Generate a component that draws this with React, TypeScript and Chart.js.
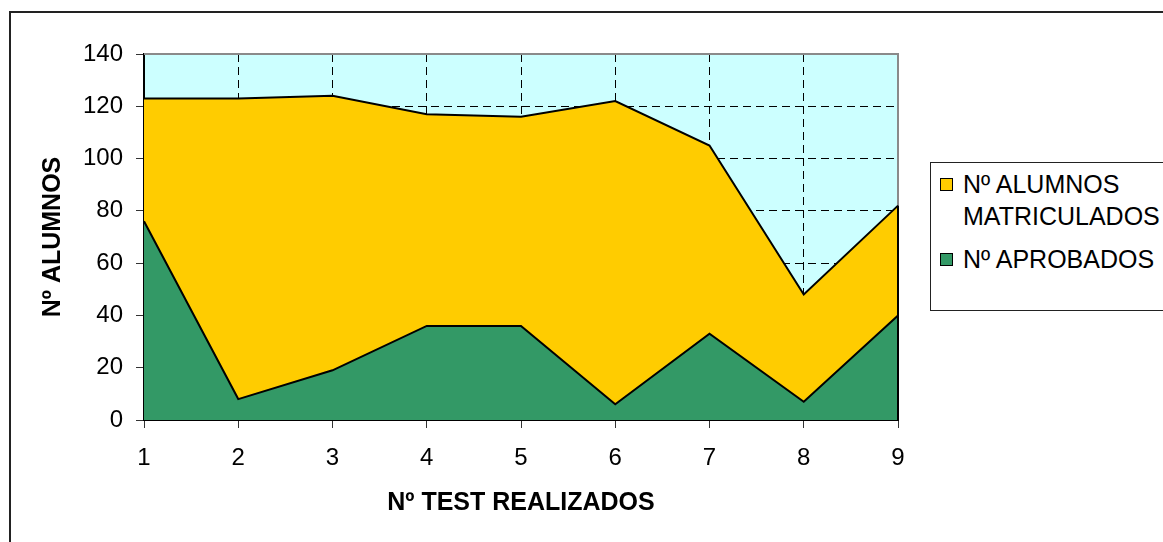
import React, { useEffect, useRef } from "react";
import { Chart, registerables } from "chart.js";

Chart.register(...registerables);

const categories = ["1", "2", "3", "4", "5", "6", "7", "8", "9"];
const matriculados = [123, 123, 124, 117, 116, 122, 105, 48, 82];
const aprobados = [76, 8, 19, 36, 36, 6, 33, 7, 40];
const yMin = 0;
const yMax = 140;
const yStep = 20;
const seriesNames = ["Nº ALUMNOS MATRICULADOS", "Nº APROBADOS"];
const legendLines = [["Nº ALUMNOS", "MATRICULADOS"], ["Nº APROBADOS"]];
const xTitle = "Nº TEST REALIZADOS";
const yTitle = "Nº ALUMNOS";

const FONT = "'Liberation Sans', Arial, Helvetica, sans-serif";
const W = 1163;
const H = 542;
const AREA = { left: 144, top: 54, right: 898, bottom: 420 };

const bgPlugin = {
  id: "bgPlugin",
  beforeDraw(chart: any) {
    const { ctx, chartArea: a } = chart;
    ctx.save();
    ctx.fillStyle = "#ffffff";
    ctx.fillRect(0, 0, chart.width, chart.height);
    ctx.strokeStyle = "#222222";
    ctx.lineWidth = 2;
    ctx.strokeRect(10, 12, chart.width + 40, chart.height + 40);
    ctx.fillStyle = "#CCFFFF";
    ctx.fillRect(a.left, a.top, a.right - a.left, a.bottom - a.top);
    ctx.restore();
  },
  beforeDatasetsDraw(chart: any) {
    const { ctx, chartArea: a } = chart;
    ctx.save();
    ctx.strokeStyle = "#8a8a8a";
    ctx.lineWidth = 2;
    ctx.beginPath();
    ctx.moveTo(a.left, a.top);
    ctx.lineTo(a.right, a.top);
    ctx.lineTo(a.right, a.bottom);
    ctx.stroke();
    ctx.restore();
  },
  afterDatasetsDraw(chart: any) {
    const { ctx, chartArea: a } = chart;
    const y = chart.scales.y;
    const top = Math.max(matriculados[matriculados.length - 1], aprobados[aprobados.length - 1]);
    ctx.save();
    ctx.strokeStyle = "#000";
    ctx.lineWidth = 2;
    ctx.beginPath();
    ctx.moveTo(a.right, a.bottom);
    ctx.lineTo(a.right, y.getPixelForValue(top));
    ctx.stroke();
    ctx.restore();
  },
};

export default function App() {
  const ref = useRef<HTMLCanvasElement>(null);

  useEffect(() => {
    if (!ref.current) return;
    Chart.defaults.font.family = FONT;
    Chart.defaults.color = "#000";
    const chart = new Chart(ref.current, {
      type: "line",
      data: {
        labels: categories,
        datasets: [
          {
            label: seriesNames[0],
            data: matriculados,
            fill: "origin",
            backgroundColor: "#FFCC00",
            borderColor: "#000",
            borderWidth: 2,
            pointRadius: 0,
            tension: 0,
            order: 2,
          },
          {
            label: seriesNames[1],
            data: aprobados,
            fill: "origin",
            backgroundColor: "#339966",
            borderColor: "#000",
            borderWidth: 2,
            pointRadius: 0,
            tension: 0,
            order: 1,
          },
        ],
      },
      options: {
        responsive: false,
        animation: false,
        layout: {
          padding: { left: 0, top: AREA.top, right: W - AREA.right, bottom: 0 },
        },
        plugins: {
          legend: { display: false },
          tooltip: { enabled: false },
        },
        scales: {
          x: {
            type: "category",
            offset: false,
            grid: {
              color: (c: any) => (c.index === 0 || c.index === categories.length - 1 ? "rgba(0,0,0,0)" : "#000"),
              lineWidth: 1,
              tickLength: 8,
              tickColor: "#333",
              tickWidth: 1,
            },
            border: { display: true, color: "#000", width: 2, dash: [8, 5] },
            ticks: { font: { size: 24 }, padding: 16, color: "#000", maxRotation: 0 },
            title: {
              display: true,
              text: xTitle,
              font: { size: 25, weight: "bold" },
              color: "#000",
              padding: { top: 0, bottom: 24 },
            },
            afterFit: (s: any) => {
              s.height = H - AREA.bottom;
            },
          },
          y: {
            min: yMin,
            max: yMax,
            grid: {
              color: (c: any) => (c.index === 0 || c.tick?.value === yMax ? "rgba(0,0,0,0)" : "#000"),
              lineWidth: 1,
              tickLength: 8,
              tickColor: "#333",
              tickWidth: 1,
            },
            border: { display: true, color: "#000", width: 2, dash: [8, 5] },
            ticks: { stepSize: yStep, font: { size: 24 }, padding: 13, color: "#000" },
            title: {
              display: true,
              text: yTitle,
              font: { size: 25, weight: "bold" },
              color: "#000",
              padding: { top: 38, bottom: 0 },
            },
            afterFit: (s: any) => {
              s.width = AREA.left;
            },
          },
        },
      },
      plugins: [bgPlugin],
    } as any);
    return () => chart.destroy();
  }, []);

  const swatch = (color: string, top: number) => (
    <div
      style={{
        position: "absolute",
        left: 940,
        top,
        width: 11,
        height: 11,
        background: color,
        border: "1.5px solid #000",
      }}
    />
  );
  const textLine = (t: string, top: number) => (
    <div
      style={{
        position: "absolute",
        left: 963,
        top,
        fontFamily: FONT,
        fontSize: 25,
        lineHeight: "25px",
        whiteSpace: "nowrap",
        color: "#000",
      }}
    >
      {t}
    </div>
  );

  return (
    <div style={{ position: "absolute", left: 0, top: 0, width: W, height: H, overflow: "hidden", background: "#fff" }}>
      <canvas ref={ref} width={W} height={H} style={{ position: "absolute", left: 0, top: 0 }} />
      <div
        style={{
          position: "absolute",
          left: 930,
          top: 162,
          width: 260,
          height: 147,
          border: "1px solid #222",
          background: "#fff",
        }}
      >
      </div>
      {swatch("#FFCC00", 178)}
      {textLine(legendLines[0][0], 172)}
      {textLine(legendLines[0][1], 204)}
      {swatch("#339966", 253)}
      {textLine(legendLines[1][0], 247)}
    </div>
  );
}
